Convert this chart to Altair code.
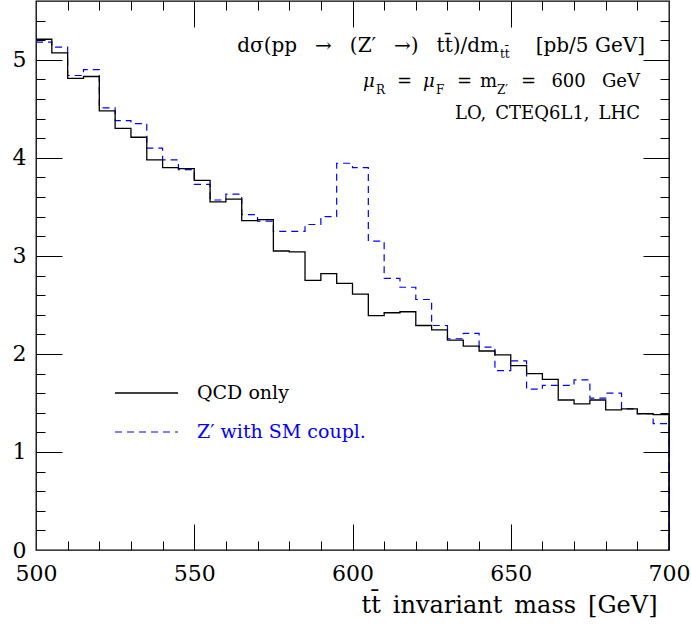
import altair as alt
import pandas as pd

# ---- data ----
bin_low = list(range(500, 700, 5))   # lower edges of the 5 GeV bins
qcd_only = [5.21, 5.07, 4.81, 4.83, 4.48, 4.30, 4.21, 3.98, 3.90, 3.89,
            3.77, 3.55, 3.58, 3.36, 3.37, 3.05, 3.04, 2.75, 2.82, 2.72,
            2.61, 2.39, 2.42, 2.43, 2.29, 2.245, 2.14, 2.08, 2.03, 1.99,
            1.88, 1.80, 1.74, 1.53, 1.49, 1.53, 1.43, 1.44, 1.39, 1.38]
zprime_sm = [5.18, 5.13, 4.84, 4.90, 4.51, 4.38, 4.35, 4.10, 3.98, 3.88,
             3.73, 3.57, 3.63, 3.42, 3.355, 3.25, 3.25, 3.32, 3.40, 3.945,
             3.90, 3.15, 2.77, 2.68, 2.555, 2.29, 2.155, 2.21, 2.07, 1.83,
             1.93, 1.64, 1.68, 1.68, 1.735, 1.55, 1.60, 1.44, 1.39, 1.29]
x_labels = [500, 550, 600, 650, 700]
y_labels = [0, 1, 2, 3, 4, 5]

FONT = "DejaVu Serif"
BLUE = "#0000ff"
EN = "\u2002"
GAP = "\u2002\u2009\u2009"


def step_table(vals):
    rows = [{"m": m, "v": v, "i": k} for k, (m, v) in enumerate(zip(bin_low, vals))]
    rows.append({"m": 700, "v": vals[-1], "i": len(vals)})
    rows.append({"m": 700, "v": 0.0, "i": len(vals) + 1})
    return pd.DataFrame(rows)


df_qcd = step_table(qcd_only)
df_zp = step_table(zprime_sm)

xs = alt.Scale(domain=[500, 700], nice=False, zero=False)
ys = alt.Scale(domain=[0, 5.6], nice=False, zero=False)

x_major = [550, 600, 650]
x_minor = [v for v in range(510, 700, 10) if v not in x_major]
y_major = [1, 2, 3, 4, 5]
y_minor = [round(k * 0.2, 1) for k in range(1, 28) if k % 5 != 0]


def tick_axis(orient, values, size):
    return alt.Axis(orient=orient, values=values, offset=-size, tickSize=size,
                    ticks=True, labels=False, domain=False, grid=False, title=None,
                    tickColor="black", tickWidth=1)


def tick_layer(xo, xv, yo, yv, size):
    return alt.Chart(df_qcd).mark_line(opacity=0).encode(
        x=alt.X("m:Q", scale=xs, axis=tick_axis(xo, xv, size)),
        y=alt.Y("v:Q", scale=ys, axis=tick_axis(yo, yv, size)),
    )


x_label_axis = alt.Axis(
    orient="bottom", values=x_labels, format="d", ticks=False, tickSize=0,
    domain=False, grid=False, labelFont=FONT, labelFontSize=22, labelColor="black",
    labelPadding=13, labelFlush=False, labelOverlap=False,
    title=f"tt\u0304{EN}invariant{EN}mass{EN}[GeV]", titleFont=FONT, titleFontSize=24,
    titleFontWeight="normal", titleColor="black", titleAlign="right",
    titleBaseline="alphabetic", titleX=621, titleY=62, titleAngle=0,
)
y_label_axis = alt.Axis(
    orient="left", values=y_labels, format="d", ticks=False, tickSize=0,
    domain=False, grid=False, labelFont=FONT, labelFontSize=22, labelColor="black",
    labelPadding=10, labelFlush=False, labelOverlap=False, title=None,
)

qcd_line = alt.Chart(df_qcd).mark_line(
    interpolate="step-after", color="black", strokeWidth=1.3
).encode(
    x=alt.X("m:Q", scale=xs, axis=x_label_axis),
    y=alt.Y("v:Q", scale=ys, axis=y_label_axis),
    order=alt.Order("i:Q"),
)

zp_line = alt.Chart(df_zp).mark_line(
    interpolate="step-after", color=BLUE, strokeWidth=1.2, strokeDash=[7, 5]
).encode(
    x=alt.X("m:Q", scale=xs, axis=None),
    y=alt.Y("v:Q", scale=ys, axis=None),
    order=alt.Order("i:Q"),
)

one = pd.DataFrame({"a": [0]})


def txt(s, x, y, size=18, align="left", color="black", style="normal"):
    return alt.Chart(one).mark_text(
        font=FONT, fontSize=size, align=align, baseline="alphabetic",
        color=color, fontStyle=style,
    ).encode(x=alt.value(x), y=alt.value(y), text=alt.value(s))


# annotation block (plot-area pixel coordinates)
annot = [
    txt(f"d\u03c3(pp{GAP}\u2192{GAP}(Z\u2032{GAP}\u2192){GAP}tt\u0304)/dm", 463, 51,
        size=20, align="right"),
    txt("tt\u0304", 464, 57, size=12),
    txt("[pb/5 GeV]", 609, 51, size=20, align="right"),
    txt("\u03bc", 327, 86, style="italic"),
    txt("R", 340, 93, size=12),
    txt("=", 361, 86),
    txt("\u03bc", 387, 86, style="italic"),
    txt("F", 400, 93, size=12),
    txt("=", 421, 86),
    txt("m", 444, 86),
    txt("Z\u2032", 461, 93, size=12),
    txt("=", 485, 86),
    txt(f"600{GAP}GeV", 604, 86, align="right"),
    txt(f"LO,{EN}CTEQ6L1,{EN}LHC", 604, 118, align="right"),
]

legend = [
    alt.Chart(one).mark_rule(color="black", strokeWidth=1.3).encode(
        x=alt.value(79), x2=alt.value(142), y=alt.value(392)),
    alt.Chart(one).mark_rule(color=BLUE, strokeWidth=1.2, strokeDash=[7, 5]).encode(
        x=alt.value(79), x2=alt.value(142), y=alt.value(431)),
    txt("QCD only", 161, 398, size=19),
    txt("Z\u2032 with SM coupl.", 161, 437, size=19, color=BLUE),
]

chart = alt.layer(
    tick_layer("bottom", x_major, "left", y_major, 26),
    tick_layer("bottom", x_minor, "left", y_minor, 9),
    tick_layer("top", x_major, "right", y_major, 26),
    tick_layer("top", x_minor, "right", y_minor, 9),
    zp_line,
    qcd_line,
    *annot,
    *legend,
).resolve_axis(x="independent", y="independent").properties(
    width=633, height=549,
    padding={"left": 36, "top": 1, "right": 22, "bottom": 74},
    autosize=alt.AutoSizeParams(type="none"),
    background="white",
).configure_view(stroke="black", strokeWidth=1.3)

chart.save("out.html", embed_options={"renderer": "svg", "actions": False})
